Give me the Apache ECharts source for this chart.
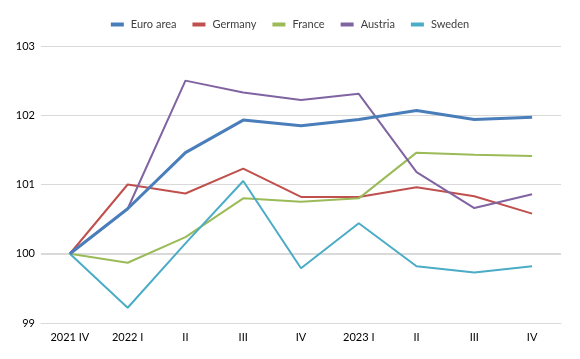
<!DOCTYPE html>
<html><head><meta charset="utf-8">
<script src="https://cdn.jsdelivr.net/npm/echarts@6/dist/echarts.min.js"></script>
<style>html,body{margin:0;padding:0;background:#fff}#c{width:580px;height:359px}</style>
</head><body><div id="c"></div>
<script>
const categories = ["2021 IV","2022 I","II","III","IV","2023 I","II","III","IV"];
const euroArea = [100, 100.65, 101.46, 101.93, 101.85, 101.94, 102.07, 101.94, 101.97];
const germany  = [100, 101.00, 100.87, 101.23, 100.82, 100.82, 100.96, 100.83, 100.58];
const france   = [100, 99.87, 100.24, 100.80, 100.75, 100.80, 101.46, 101.43, 101.41];
const austria  = [100, 100.65, 102.50, 102.33, 102.22, 102.31, 101.18, 100.66, 100.86];
const sweden   = [100, 99.22, 100.15, 101.05, 99.79, 100.44, 99.82, 99.73, 99.82];
const yTicks = [99, 100, 101, 102, 103];

const font = 'Lato, "Open Sans", sans-serif';
const chart = echarts.init(document.getElementById('c'), null, {renderer:'canvas'});
function s(name, data, color, width, z){
  return {name, type:'line', data, symbol:'none', z:z,
    lineStyle:{color, width}, itemStyle:{color}};
}
chart.setOption({
  animation:false,
  textStyle:{fontFamily:font},
  legend:{top:14, left:'center', itemWidth:13, itemHeight:4, itemGap:16,
    icon:'rect', textStyle:{fontFamily:font, fontSize:11, color:'#404040', padding:[0,0,0,2]}},
  grid:{left:41, right:19, top:46, bottom:36, containLabel:false},
  xAxis:{type:'category', data:categories, boundaryGap:true,
    axisLine:{show:true, lineStyle:{color:'#d9d9d9', width:1}},
    axisTick:{show:false},
    axisLabel:{fontFamily:font, fontSize:11, color:'#000', margin:9, interval:0}},
  yAxis:{type:'value', min:yTicks[0], max:yTicks[yTicks.length-1], interval:1,
    axisLine:{show:false}, axisTick:{show:false},
    axisLabel:{fontFamily:font, fontSize:11, color:'#000', margin:6},
    splitLine:{lineStyle:{color:'#d9d9d9', width:1}}},
  series:[
    Object.assign(s('Euro area', euroArea, '#4a7ebb', 3, 10), {
      markLine:{silent:true, symbol:'none', label:{show:false},
        lineStyle:{color:'#d9d9d9', width:2, type:'solid'}, data:[{yAxis:100}], z:1}}),
    s('Germany', germany, '#c0504d', 2, 5),
    s('France', france, '#9bbb59', 2, 5),
    s('Austria', austria, '#8064a2', 2, 5),
    s('Sweden', sweden, '#4bacc6', 2, 5)
  ]
});
</script></body></html>
